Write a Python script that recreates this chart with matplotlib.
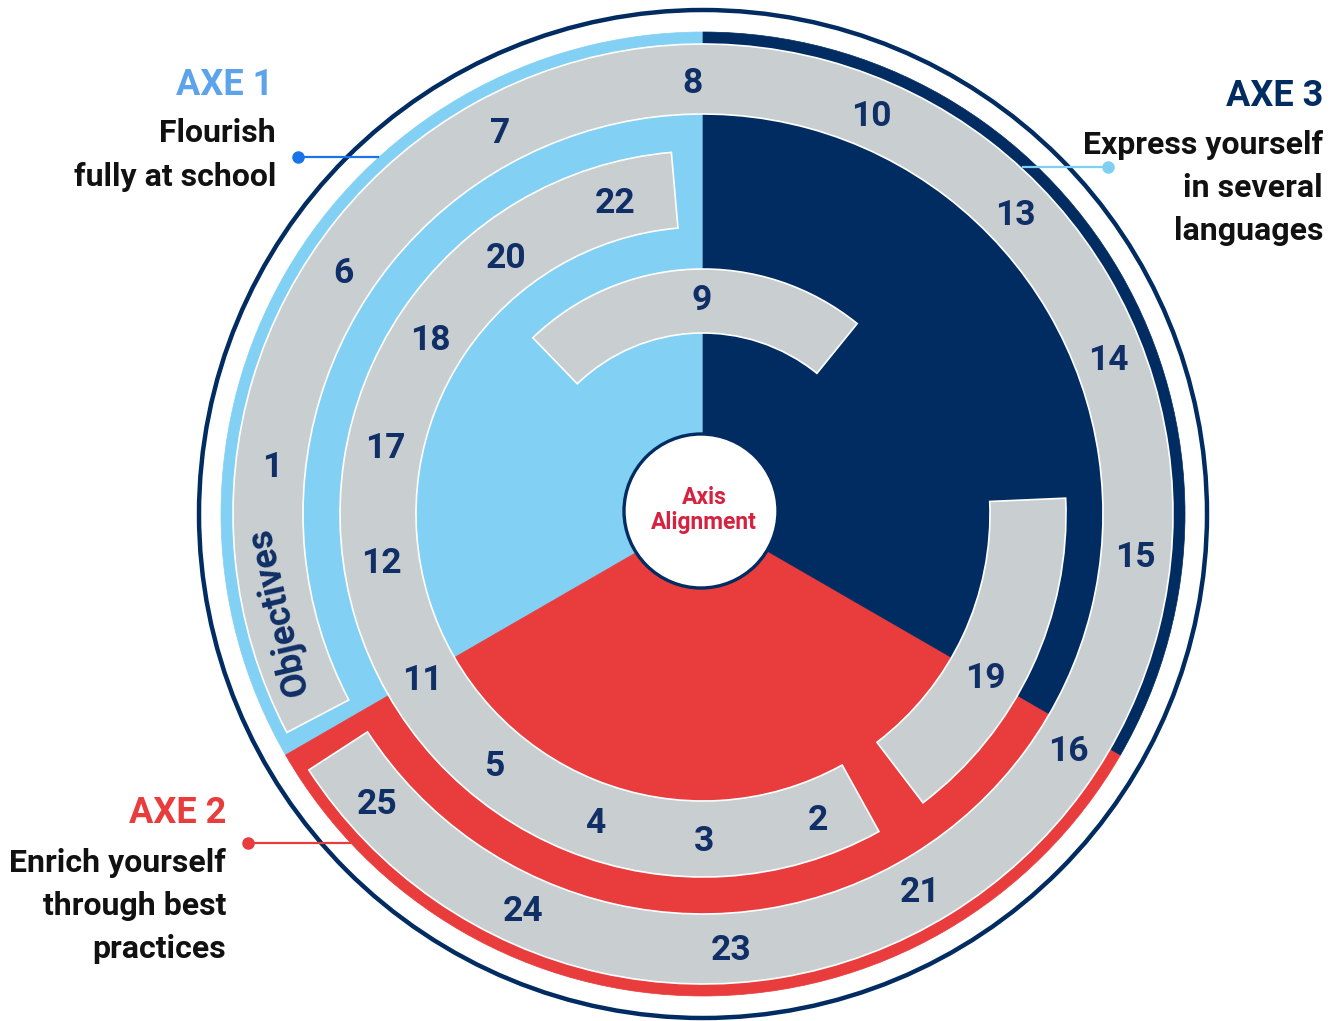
import matplotlib
matplotlib.use("Agg")
import numpy as np
import matplotlib.pyplot as plt
from matplotlib.patches import Wedge, Circle

# colours
LIGHT = "#82D0F4"
NAVY = "#002C62"
RED = "#E83C3D"
GREY = "#C9CED0"
NUM = "#0F2F66"

# axes (sectors, degrees)
axes_names = ["AXE 1", "AXE 2", "AXE 3"]
axes_colors = [LIGHT, RED, NAVY]
axes_spans = [(90, 210), (210, 330), (-30, 90)]

# grey arc segments: (ring, start angle, end angle)
segment_rings = ["A", "B", "B", "C"]
segment_spans = [(-147, 207.7), (95, 299), (-52.7, 2.5), (51, 134)]

# objectives numbers: label, angle (deg)
ring_a_labels = ["8", "10", "13", "14", "15", "16", "21", "23", "24", "25", "7", "6", "1"]
ring_a_angles = [91.4, 67.2, 44.0, 21.1, -5.4, -32.7, -60.0, -86.3, -114.5, -138.6, 117.8, 145.9, 173.5]
ring_b_labels = ["22", "20", "18", "17", "12", "11", "5", "4", "3", "2", "19"]
ring_b_angles = [105.6, 127.4, 147.2, 167.8, 188.2, 210.3, 230.1, 250.7, 270.2, 290.8, 330.3]
ring_c_labels = ["9"]
ring_c_angles = [90.3]

W, H = 1339, 1021
C = (703, H - 514)
R_OUTER = 504
R_BAND = 482
RINGS = {"A": (470, 70), "B": (363, 76), "C": (245, 64)}
R_TEXT = {"A": 434, "B": 325, "C": 217}

fig = plt.figure(figsize=(W / 100, H / 100), dpi=100)
ax = fig.add_axes([0, 0, 1, 1])
ax.set_xlim(0, W)
ax.set_ylim(0, H)
ax.set_aspect("equal")
ax.axis("off")

plt.rcParams["font.family"] = ["Roboto", "DejaVu Sans"]

# sector fills
for col, (t1, t2) in zip(axes_colors, axes_spans):
    ax.add_patch(Wedge(C, R_BAND, t1, t2, fc=col, ec=col, lw=0.5, zorder=1))

# grey arcs
for ring, (t1, t2) in zip(segment_rings, segment_spans):
    r, w = RINGS[ring]
    ax.add_patch(Wedge(C, r, t1, t2, width=w, fc=GREY, ec="white", lw=1.2, zorder=2))

# outer circle and centre
ax.add_patch(Circle(C, R_OUTER, fill=False, ec=NAVY, lw=3.2, zorder=3))
ax.add_patch(Circle((C[0] - 2, C[1] + 3), 77, fc="white", ec=NAVY, lw=2.4, zorder=4))
ax.text(C[0] + 1, C[1] + 4, "Axis\nAlignment", color="#D7213F", fontsize=16.5,
        fontweight="bold", ha="center", va="center", linespacing=1.15, zorder=5)

# numbers
def put_numbers(labels, angles, ring):
    for lab, ang in zip(labels, angles):
        a = np.radians(ang)
        x = C[0] + R_TEXT[ring] * np.cos(a)
        y = C[1] + R_TEXT[ring] * np.sin(a) - 3
        ax.text(x, y, lab, color=NUM, fontsize=25.5, fontweight="bold",
                ha="center", va="center", zorder=5)

put_numbers(ring_a_labels, ring_a_angles, "A")
put_numbers(ring_b_labels, ring_b_angles, "B")
put_numbers(ring_c_labels, ring_c_angles, "C")

a = np.radians(193)
ax.text(C[0] + 435 * np.cos(a), C[1] + 435 * np.sin(a), "Objectives", color=NUM,
        fontsize=26, fontweight="bold", rotation=103, ha="center", va="center",
        rotation_mode="anchor", zorder=5)

# axis titles and leaders
ax.text(273, H - 85, "AXE 1", color="#5CA3EC", fontsize=26, fontweight="bold",
        ha="right", va="center")
ax.text(276, H - 155, "Flourish\nfully at school", color="#111111", fontsize=23,
        fontweight="bold", ha="right", va="center", linespacing=1.55)
ax.plot([298, 378], [H - 157, H - 157], color="#1A73E8", lw=1.6, zorder=6)
ax.plot([298], [H - 157], "o", color="#1A73E8", ms=8, zorder=6)

ax.text(1323, H - 96, "AXE 3", color=NAVY, fontsize=26, fontweight="bold",
        ha="right", va="center")
ax.text(1323, H - 188, "Express yourself\nin several\nlanguages", color="#111111",
        fontsize=23, fontweight="bold", ha="right", va="center", linespacing=1.55)
ax.plot([1023, 1108], [H - 167, H - 167], color="#7FCFF2", lw=1.6, zorder=6)
ax.plot([1108], [H - 167], "o", color="#7FCFF2", ms=8, zorder=6)

ax.text(226, H - 813, "AXE 2", color=RED, fontsize=26, fontweight="bold",
        ha="right", va="center")
ax.text(226, H - 906, "Enrich yourself\nthrough best\npractices", color="#111111",
        fontsize=23, fontweight="bold", ha="right", va="center", linespacing=1.55)
ax.plot([248, 350], [H - 843, H - 843], color=RED, lw=1.6, zorder=6)
ax.plot([248], [H - 843], "o", color=RED, ms=8, zorder=6)

fig.savefig("out.png", dpi=100)
